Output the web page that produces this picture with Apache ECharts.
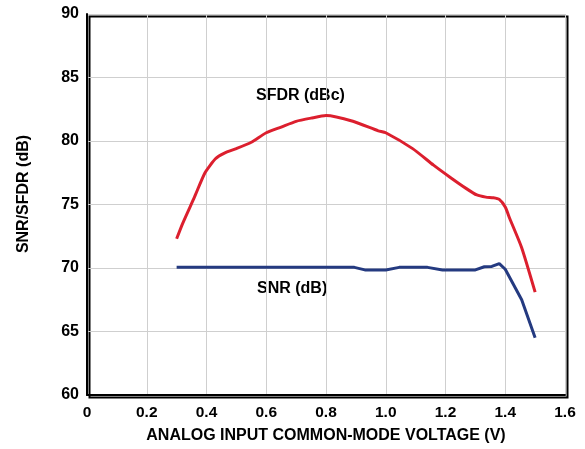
<!DOCTYPE html>
<html>
<head>
<meta charset="utf-8">
<script src="https://cdn.jsdelivr.net/npm/echarts@6/dist/echarts.min.js"></script>
<style>
    html, body { margin: 0; padding: 0; background: #fff; }
    #chartDiv { width: 585px; height: 449px; }
</style>
</head>
<body>
<div id="chartDiv"></div>
<script>
    // SFDR (dBc) vs common-mode voltage
    var sfdrData = [
        [0.30, 72.3], [0.32, 73.5], [0.36, 75.6], [0.395, 77.5], [0.43, 78.6],
        [0.46, 79.05], [0.50, 79.4], [0.55, 79.9], [0.60, 80.65], [0.65, 81.1],
        [0.70, 81.55], [0.75, 81.8], [0.80, 82.0], [0.89, 81.55], [0.975, 80.8],
        [1.00, 80.65], [1.09, 79.4], [1.16, 78.1], [1.215, 77.15], [1.27, 76.25],
        [1.305, 75.75], [1.335, 75.58], [1.36, 75.53], [1.38, 75.4], [1.40, 74.8],
        [1.415, 73.9], [1.455, 71.6], [1.50, 68.1]
    ];
    // SNR (dB)
    var snrData = [
        [0.30, 70.05], [0.60, 70.05], [0.895, 70.05], [0.93, 69.85], [1.00, 69.85],
        [1.045, 70.05], [1.14, 70.05], [1.19, 69.85], [1.30, 69.85], [1.33, 70.1],
        [1.355, 70.12], [1.38, 70.35], [1.40, 69.9], [1.455, 67.5], [1.50, 64.5]
    ];
    var xTicks = ['0', '0.2', '0.4', '0.6', '0.8', '1.0', '1.2', '1.4', '1.6'];

    var font = 'Liberation Sans, Arial, sans-serif';
    var chart = echarts.init(document.getElementById('chartDiv'));
    chart.setOption({
        animation: false,
        grid: { left: 87, top: 14, right: 20, bottom: 54 },
        xAxis: {
            type: 'value', min: 0, max: 1.6, interval: 0.2,
            name: 'ANALOG INPUT COMMON-MODE VOLTAGE (V)',
            nameLocation: 'middle', nameGap: 33,
            nameTextStyle: { fontFamily: font, fontWeight: 'bold', fontSize: 16, color: '#000' },
            axisLine: { show: true, onZero: false, lineStyle: { color: '#000', width: 2 } },
            axisTick: { show: false },
            axisLabel: {
                fontFamily: font, fontWeight: 'bold', fontSize: 15.5, color: '#000', margin: 10,
                formatter: function (v) { return xTicks[Math.round(v / 0.2)]; }
            },
            splitLine: { show: true, lineStyle: { color: '#cfcfcf', width: 1 } }
        },
        yAxis: {
            type: 'value', min: 60, max: 90, interval: 5,
            axisLine: { show: true, lineStyle: { color: '#000', width: 2 } },
            axisTick: { show: false },
            axisLabel: { fontFamily: font, fontWeight: 'bold', fontSize: 16, color: '#000', margin: 8 },
            splitLine: { show: true, lineStyle: { color: '#cfcfcf', width: 1 } }
        },
        graphic: [
            { type: 'rect', left: 87, top: 14, shape: { width: 478, height: 381 },
              style: { fill: 'none', stroke: '#000', lineWidth: 2 }, silent: true },
            { type: 'text', x: 23.5, y: 194, rotation: Math.PI / 2,
              style: { text: 'SNR/SFDR (dB)', font: 'bold 16px ' + font, fill: '#000',
                       align: 'center', verticalAlign: 'middle' } },
            { type: 'text', left: 256, top: 88,
              style: { text: 'SFDR (dBc)', font: 'bold 16px ' + font, fill: '#000' } },
            { type: 'text', left: 257, top: 281,
              style: { text: 'SNR (dB)', font: 'bold 16px ' + font, fill: '#000' } }
        ],
        series: [
            {
                name: 'SFDR (dBc)', type: 'line', data: sfdrData, showSymbol: false,
                smooth: 0.2, lineStyle: { color: '#dc1f2e', width: 3 }
            },
            {
                name: 'SNR (dB)', type: 'line', data: snrData, showSymbol: false,
                lineStyle: { color: '#243a80', width: 3 }
            }
        ]
    });
</script>
</body>
</html>
